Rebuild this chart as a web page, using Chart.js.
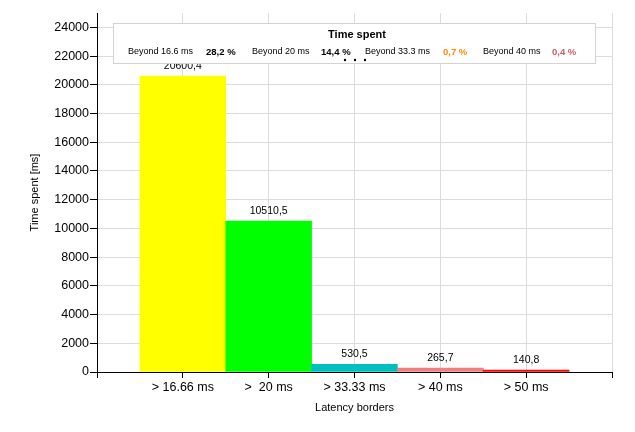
<!DOCTYPE html>
<html>
<head>
<meta charset="utf-8">
<script src="https://cdn.jsdelivr.net/npm/chart.js@4"></script>
<style>
html,body{margin:0;padding:0;background:#fff;}
#wrap{width:635px;height:432px;position:relative;}
</style>
</head>
<body>
<div id="wrap"><canvas id="c" width="635" height="432"></canvas></div>
<script>
const categories = ['', '> 16.66 ms', '>  20 ms', '> 33.33 ms', '> 40 ms', '> 50 ms', ''];
const values = [null, 20600.4, 10510.5, 530.5, 265.7, 140.8, null];
const barColors = ['#ffffff', '#FFFF00', '#00FF00', '#00BFBF', '#F08080', '#FF0000', '#ffffff'];
const yTicks = [0, 2000, 4000, 6000, 8000, 10000, 12000, 14000, 16000, 18000, 20000, 22000, 24000];
const legendTitle = 'Time spent';
const legendNames = ['Beyond 16.6 ms', 'Beyond 20 ms', 'Beyond 33.3 ms', 'Beyond 40 ms'];
const legendPercents = ['28,2 %', '14,4 %', '0,7 %', '0,4 %'];
const legendColors = ['#000000', '#000000', '#FF8C00', '#CD5C5C'];

const FONT = '"Liberation Sans", Arial, sans-serif';
const fmt = v => v.toFixed(1).replace('.', ',');

const bg = {
  id: 'bg',
  beforeDraw(chart) {
    const ctx = chart.ctx;
    ctx.save();
    ctx.fillStyle = '#fff';
    ctx.fillRect(0, 0, chart.width, chart.height);
    ctx.restore();
  }
};

const valueLabels = {
  id: 'valueLabels',
  afterDatasetsDraw(chart) {
    const ctx = chart.ctx;
    const meta = chart.getDatasetMeta(0);
    ctx.save();
    ctx.font = '10.5px ' + FONT;
    ctx.fillStyle = '#000';
    ctx.textAlign = 'center';
    ctx.textBaseline = 'bottom';
    meta.data.forEach((el, i) => {
      const v = values[i];
      if (v == null) return;
      ctx.fillText(fmt(v), el.x, el.y - 5);
    });
    ctx.restore();
  }
};

const legendBox = {
  id: 'legendBox',
  afterDraw(chart) {
    const ctx = chart.ctx;
    const x0 = 113.5, y0 = 23.5, w = 482, h = 40;
    ctx.save();
    ctx.fillStyle = '#fff';
    ctx.fillRect(x0, y0, w, h);
    ctx.strokeStyle = '#D3D3D3';
    ctx.lineWidth = 1;
    ctx.strokeRect(x0, y0, w, h);
    ctx.fillStyle = '#000';
    ctx.font = 'bold 11px ' + FONT;
    ctx.textAlign = 'center';
    ctx.textBaseline = 'middle';
    ctx.fillText(legendTitle, 357, 35);
    ctx.textAlign = 'left';
    const nameX = [128, 252, 365, 483];
    const pctX = [206, 321, 443, 552];
    for (let i = 0; i < legendNames.length; i++) {
      ctx.font = '9px ' + FONT;
      ctx.fillStyle = '#000';
      ctx.fillText(legendNames[i], nameX[i], 52);
      ctx.font = 'bold 9.5px ' + FONT;
      ctx.fillStyle = legendColors[i];
      ctx.fillText(legendPercents[i], pctX[i], 52);
    }
    ctx.fillStyle = '#000';
    [345, 355, 365].forEach(x => {
      ctx.beginPath();
      ctx.arc(x, 60, 1.2, 0, Math.PI * 2);
      ctx.fill();
    });
    ctx.restore();
  }
};

new Chart(document.getElementById('c'), {
  type: 'bar',
  data: {
    labels: categories,
    datasets: [{
      data: values,
      backgroundColor: barColors,
      borderWidth: 0,
      barPercentage: 1,
      categoryPercentage: 1
    }]
  },
  options: {
    responsive: false,
    animation: false,
    devicePixelRatio: 1,
    layout: { padding: { left: 0, right: 23, top: 13, bottom: 0 } },
    plugins: { legend: { display: false }, tooltip: { enabled: false } },
    scales: {
      x: {
        offset: false,
        grid: { color: '#DCDCDC', tickColor: '#000', tickLength: 6, offset: false },
        border: { color: '#000', width: 1 },
        ticks: { color: '#000', font: { family: FONT, size: 12.5 }, padding: 2, maxRotation: 0, autoSkip: false },
        title: { display: true, text: 'Latency borders', color: '#000', font: { family: FONT, size: 11 }, padding: { top: 0, bottom: 17 } },
        afterFit(s) { s.height = 60; }
      },
      y: {
        min: 0,
        max: 25000,
        afterBuildTicks(s) { s.ticks = yTicks.map(v => ({ value: v })); },
        grid: { color: '#DCDCDC', tickColor: '#000', tickLength: 7 },
        border: { color: '#000', width: 1 },
        ticks: { color: '#000', font: { family: FONT, size: 12.5 }, padding: 1, callback: v => String(v) },
        title: { display: true, text: 'Time spent [ms]', color: '#000', font: { family: FONT, size: 11 }, padding: { top: 28, bottom: 0 } },
        afterFit(s) { s.width = 97; }
      }
    }
  },
  plugins: [bg, valueLabels, legendBox]
});
</script>
</body>
</html>
